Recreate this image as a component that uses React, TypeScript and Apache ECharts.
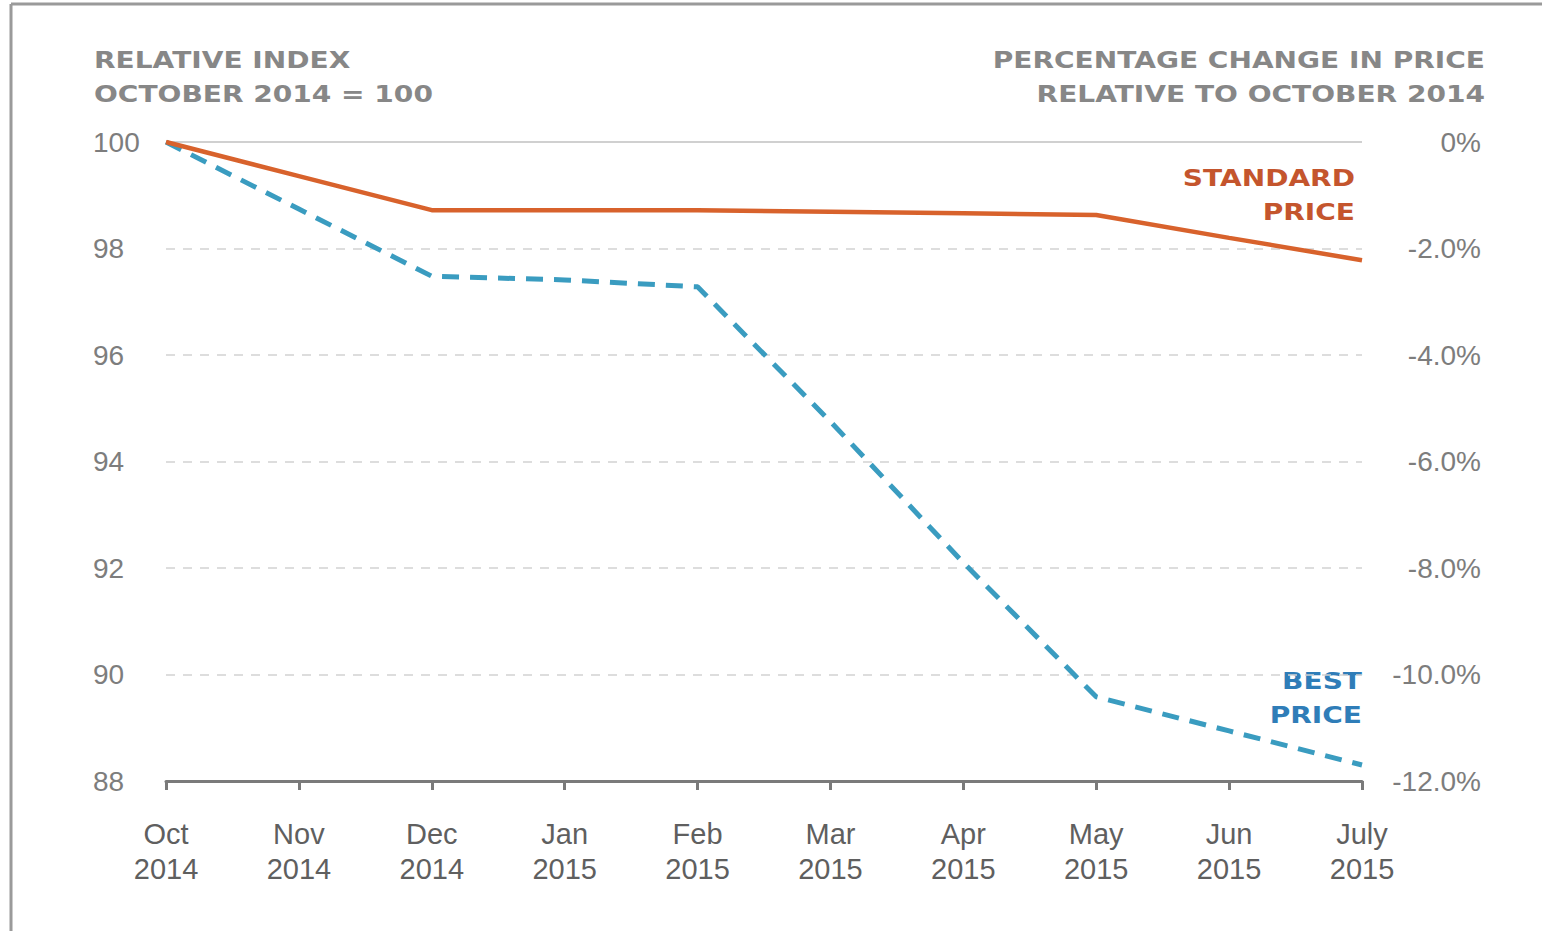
import React, { useEffect, useRef } from "react";
import * as echarts from "echarts";

const months = ["Oct\n2014", "Nov\n2014", "Dec\n2014", "Jan\n2015", "Feb\n2015", "Mar\n2015", "Apr\n2015", "May\n2015", "Jun\n2015", "July\n2015"];
const standardPrice = [100, 99.36, 98.72, 98.72, 98.72, 98.69, 98.66, 98.63, 98.2, 97.78];
const bestPrice = [100, 98.74, 97.48, 97.41, 97.28, 94.75, 92.1, 89.58, 88.94, 88.3];
const leftTicks = { min: 88, max: 100, interval: 2 };
const rightTicks = { min: -12, max: 0, interval: 2 };

const GRAY_TEXT = "#7d7d7d";
const TICK_TEXT = "#5f5f5f";
const ORANGE = "#d8622c";
const BLUE = "#3a9cc0";

export default function App() {
  const ref = useRef<HTMLDivElement>(null);
  useEffect(() => {
    if (!ref.current) return;
    const chart = echarts.init(ref.current, null, { renderer: "svg" });
    chart.setOption({
      animation: false,
      backgroundColor: "#ffffff",
      grid: { left: 166, right: 180, top: 142, bottom: 150 },
      xAxis: {
        type: "category",
        data: months,
        boundaryGap: false,
        axisLine: { onZero: false, lineStyle: { color: "#7a7a7a", width: 3 } },
        axisTick: { show: true, length: 9, lineStyle: { color: "#7a7a7a", width: 3 } },
        axisLabel: {
          color: TICK_TEXT,
          fontFamily: "Liberation Sans",
          fontSize: 29,
          lineHeight: 35,
          margin: 35,
          interval: 0,
        },
        splitLine: { show: false },
      },
      yAxis: [
        {
          type: "value",
          min: leftTicks.min,
          max: leftTicks.max,
          interval: leftTicks.interval,
          axisLine: { show: false },
          axisTick: { show: false },
          axisLabel: {
            color: GRAY_TEXT,
            fontFamily: "Liberation Sans",
            fontSize: 28,
            align: "left",
            margin: 73,
          },
          splitLine: { lineStyle: { color: "#d2d2d2", width: 1.5, type: [9, 8] } },
        },
        {
          type: "value",
          min: rightTicks.min,
          max: rightTicks.max,
          interval: rightTicks.interval,
          position: "right",
          axisLine: { show: false },
          axisTick: { show: false },
          splitLine: { show: false },
          axisLabel: {
            color: GRAY_TEXT,
            fontFamily: "Liberation Sans",
            fontSize: 28,
            align: "right",
            margin: 119,
            formatter: (v: number) => (v === 0 ? "0%" : v.toFixed(1) + "%"),
          },
        },
      ],
      series: [
        {
          name: "Standard price",
          type: "line",
          yAxisIndex: 0,
          data: standardPrice,
          symbol: "none",
          lineStyle: { color: ORANGE, width: 4.5 },
          z: 3,
          markLine: {
            silent: true,
            symbol: "none",
            label: { show: false },
            lineStyle: { color: "#d0d0d0", width: 2, type: "solid" },
            data: [{ yAxis: 100 }],
            z: 1,
          },
        },
        {
          name: "Best price",
          type: "line",
          yAxisIndex: 0,
          data: bestPrice,
          symbol: "none",
          lineStyle: { color: BLUE, width: 5, type: [17, 11] },
          z: 2,
        },
      ],
      graphic: [
        { type: "line", shape: { x1: 11, y1: 4, x2: 1542, y2: 4 }, style: { stroke: "#9a9a9a", lineWidth: 3 } },
        { type: "line", shape: { x1: 11, y1: 4, x2: 11, y2: 931 }, style: { stroke: "#9a9a9a", lineWidth: 3 } },
        {
          type: "text",
          x: 94,
          y: 43,
          scaleX: 1.22,
          style: {
            text: "RELATIVE INDEX\nOCTOBER 2014 = 100",
            fill: "#878787",
            font: "bold 23px 'DejaVu Sans'",
            lineHeight: 34,
            align: "left",
            verticalAlign: "top",
          },
        },
        {
          type: "text",
          x: 1485,
          y: 43,
          scaleX: 1.22,
          style: {
            text: "PERCENTAGE CHANGE IN PRICE\nRELATIVE TO OCTOBER 2014",
            fill: "#878787",
            font: "bold 23px 'DejaVu Sans'",
            lineHeight: 34,
            align: "right",
            verticalAlign: "top",
          },
        },
        {
          type: "text",
          x: 1355,
          y: 161,
          scaleX: 1.22,
          style: {
            text: "STANDARD\nPRICE",
            fill: "#c4552d",
            font: "bold 23px 'DejaVu Sans'",
            lineHeight: 34,
            align: "right",
            verticalAlign: "top",
          },
        },
        {
          type: "text",
          x: 1362,
          y: 664,
          scaleX: 1.22,
          style: {
            text: "BEST\nPRICE",
            fill: "#2f7db8",
            font: "bold 23px 'DejaVu Sans'",
            lineHeight: 34,
            align: "right",
            verticalAlign: "top",
          },
        },
      ],
    });
    return () => chart.dispose();
  }, []);
  return (
    <div
      ref={ref}
      style={{ position: "fixed", left: 0, top: 0, width: 1542, height: 931 }}
    />
  );
}
